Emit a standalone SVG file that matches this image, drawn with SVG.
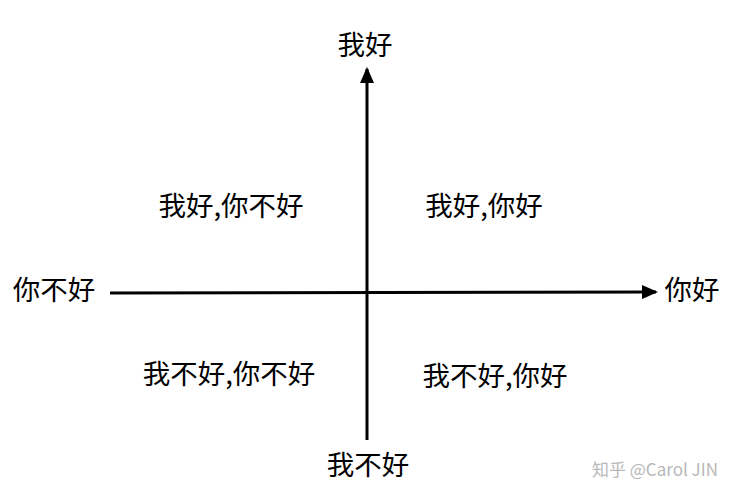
<svg xmlns="http://www.w3.org/2000/svg" width="736" height="504" viewBox="0 0 736 504">
<style>
text{font-family:"Noto Sans CJK SC","Noto Sans",sans-serif;fill:#000}
.lbl{font-size:27.5px}
.wm{font-size:17px;fill:#b8b8b8}
.axis{stroke:#000;stroke-width:3;fill:none}
</style>
<defs>
<marker id="arr" markerWidth="5.5" markerHeight="4.8" refX="4.8" refY="2.4" orient="auto" markerUnits="strokeWidth">
<path d="M0,0 L5.5,2.4 L0,4.8 Z" fill="#000"/>
</marker>
</defs>
<rect width="736" height="504" fill="#fff"/>
<g id="connectors">
<line class="axis" x1="367" y1="440" x2="367" y2="69" marker-end="url(#arr)"/>
<line class="axis" x1="110" y1="293" x2="656" y2="292" marker-end="url(#arr)"/>
</g>
<g id="top"><text class="lbl" x="365" y="55" text-anchor="middle">我好</text></g>
<g id="bottom"><text class="lbl" x="368" y="475" text-anchor="middle">我不好</text></g>
<g id="left"><text class="lbl" x="54" y="300" text-anchor="middle">你不好</text></g>
<g id="right"><text class="lbl" x="692" y="300" text-anchor="middle">你好</text></g>
<g id="q1"><text class="lbl" x="231" y="216" text-anchor="middle">我好,你不好</text></g>
<g id="q2"><text class="lbl" x="484" y="216" text-anchor="middle">我好,你好</text></g>
<g id="q3"><text class="lbl" x="229" y="384" text-anchor="middle">我不好,你不好</text></g>
<g id="q4"><text class="lbl" x="495" y="386" text-anchor="middle">我不好,你好</text></g>
<g id="watermark"><text class="wm" x="718" y="476" text-anchor="end">知乎 @Carol JIN</text></g>
</svg>
